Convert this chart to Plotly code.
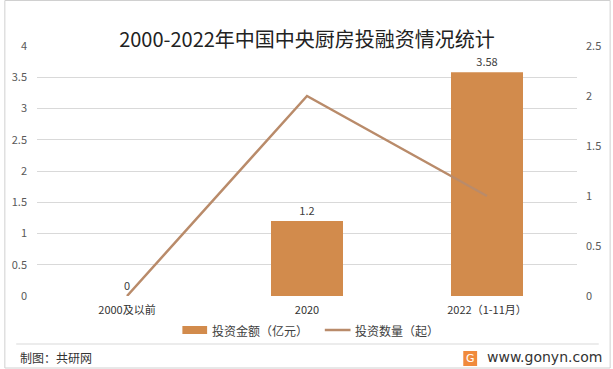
import plotly.graph_objects as go

categories = ["2000及以前", "2020", "2022（1-11月）"]
amount = [0, 1.2, 3.58]          # 投资金额（亿元）
count = [0, 2, 1]                # 投资数量（起）
amount_labels = ["0", "1.2", "3.58"]
left_ticks = [0, 0.5, 1, 1.5, 2, 2.5, 3, 3.5, 4]
right_ticks = [0, 0.5, 1, 1.5, 2, 2.5]
series_names = ["投资金额（亿元）", "投资数量（起）"]

FONT = "Noto Sans CJK SC"
BAR_C, LINE_C = "#D28B4C", "#B98B6A"
W, H = 613, 369
L, R, T, B = 33, 34, 46, 73
pw, ph = W - L - R, H - T - B

def px_x(x):
    return (x - L) / pw

def px_y(y):
    return (H - B - y) / ph

fig = go.Figure()
fig.add_trace(go.Bar(
    x=categories, y=amount, name=series_names[0],
    marker=dict(color=BAR_C, line=dict(width=0)),
    width=0.4, text=amount_labels, textposition="outside",
    textfont=dict(size=11, color="#404040", family=FONT),
    cliponaxis=False, showlegend=False,
))
fig.add_trace(go.Scatter(
    x=categories, y=count, name=series_names[1], yaxis="y2",
    mode="lines", line=dict(color=LINE_C, width=2.5), showlegend=False,
))

shapes = [
    dict(type="rect", xref="paper", yref="paper",
         x0=px_x(0.5), x1=px_x(612.5), y0=px_y(368), y1=px_y(0.5),
         line=dict(color="#D0D0D0", width=1), layer="below"),
    dict(type="line", xref="paper", yref="paper",
         x0=px_x(12), x1=px_x(601), y0=px_y(344), y1=px_y(344),
         line=dict(color="#D9D9D9", width=1)),
    dict(type="rect", xref="paper", yref="paper",
         x0=px_x(464), x1=px_x(478), y0=px_y(366), y1=px_y(351),
         line=dict(width=0), fillcolor="#F08A3C"),
    # legend swatches
    dict(type="rect", xref="paper", yref="paper",
         x0=px_x(180), x1=px_x(205), y0=px_y(334), y1=px_y(326),
         line=dict(width=0), fillcolor=BAR_C),
    dict(type="line", xref="paper", yref="paper",
         x0=px_x(324), x1=px_x(350), y0=px_y(330), y1=px_y(330),
         line=dict(color=LINE_C, width=2.5)),
]

annotations = [
    dict(text=series_names[0], xref="paper", yref="paper",
         x=px_x(208), y=px_y(330), xanchor="left", yanchor="middle",
         showarrow=False, font=dict(size=12, color="#404040", family=FONT)),
    dict(text=series_names[1], xref="paper", yref="paper",
         x=px_x(353), y=px_y(330), xanchor="left", yanchor="middle",
         showarrow=False, font=dict(size=12, color="#404040", family=FONT)),
    dict(text="制图：共研网", xref="paper", yref="paper",
         x=px_x(14), y=px_y(357), xanchor="left", yanchor="middle",
         showarrow=False, font=dict(size=12, color="#333333", family=FONT)),
    dict(text="G", xref="paper", yref="paper",
         x=px_x(471), y=px_y(358.5), xanchor="center", yanchor="middle",
         showarrow=False, font=dict(size=11, color="white", family="DejaVu Sans")),
    dict(text="www.gonyn.com", xref="paper", yref="paper",
         x=px_x(486), y=px_y(357), xanchor="left", yanchor="middle",
         showarrow=False, font=dict(size=14, color="#333333", family="DejaVu Sans")),
]

for (wx, wy) in [(100, 40), (330, 140), (520, 150), (250, 265), (60, 300), (530, 320)]:
    annotations.append(dict(
        text="<b>G共研网</b><br><span style='font-size:9px'>w w w . g o n y n . c o m</span>",
        xref="paper", yref="paper", x=px_x(wx), y=px_y(wy),
        showarrow=False, textangle=-18,
        font=dict(size=26, color="rgba(0,0,0,0.025)", family=FONT)))

fig.update_layout(
    width=W, height=H,
    margin=dict(l=L, r=R, t=T, b=B, pad=0),
    paper_bgcolor="white", plot_bgcolor="white",
    font=dict(family=FONT, color="#404040", size=11),
    title=dict(text="2000-2022年中国中央厨房投融资情况统计",
               x=0.5, xref="paper", y=1 - 40 / H, yanchor="middle",
               font=dict(size=20, color="#222222", family=FONT)),
    xaxis=dict(showgrid=False, showline=False, ticks="",
               tickfont=dict(size=11, color="#333333"), ticklabelstandoff=6),
    yaxis=dict(range=[0, 4], tickvals=left_ticks, showgrid=True,
               gridcolor="#D9D9D9", gridwidth=1, zeroline=False,
               showline=False, tickfont=dict(size=11, color="#595959"),
               ticklabelstandoff=9),
    yaxis2=dict(range=[0, 2.5], tickvals=right_ticks, overlaying="y",
                side="right", showgrid=False, zeroline=False, showline=False,
                tickfont=dict(size=11, color="#595959"), ticklabelstandoff=8),
    shapes=shapes, annotations=annotations,
    showlegend=False,
)

fig.write_html("out.html", config={"displayModeBar": False},
               post_script="document.body.style.margin='0';document.body.style.overflow='hidden';")
